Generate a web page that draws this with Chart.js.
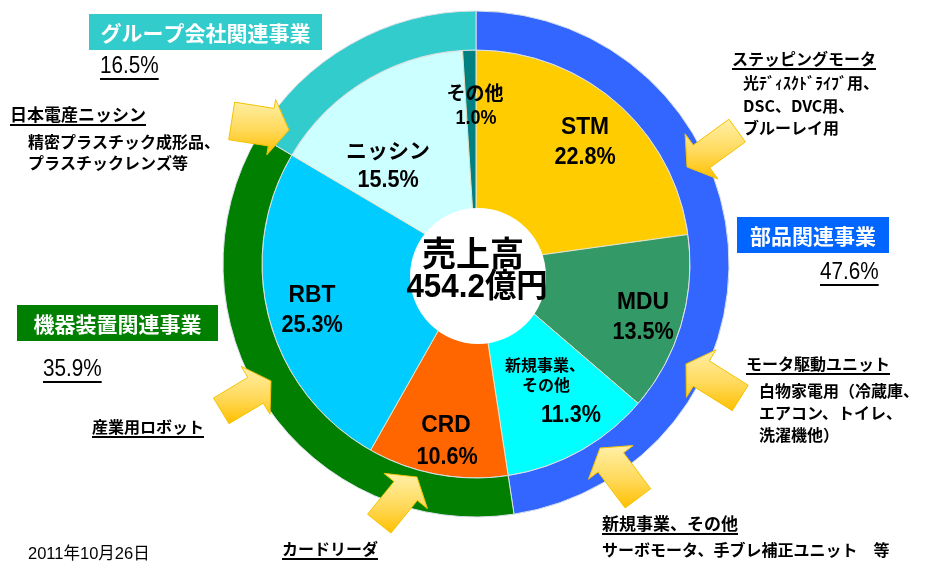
<!DOCTYPE html>
<html><head><meta charset="utf-8">
<script src="https://cdn.jsdelivr.net/npm/chart.js@4.4.0/dist/chart.umd.min.js"></script>
<style>html,body{margin:0;padding:0;background:#fff;overflow:hidden}canvas{display:block}</style>
</head><body>
<canvas id="c" width="925" height="561"></canvas>
<script>
// ---------- data ----------
const segmentNames = ['STM', 'MDU', '新規事業、その他', 'CRD', 'RBT', 'ニッシン', 'その他'];
const segmentShares = [22.8, 13.5, 11.3, 10.6, 25.3, 15.5, 1.0];
const businessNames = ['部品関連事業', '機器装置関連事業', 'グループ会社関連事業'];
const businessShares = [47.6, 35.9, 16.5];
const centerTitle = '売上高';
const centerValue = '454.2億円';
const dateLabel = '2011年10月26日';

// ---------- styles / layout ----------
const segmentColors = ['#FFCC00', '#339966', '#00FFFF', '#FF6600', '#00CCFF', '#CCFFFF', '#008080'];
const businessColors = ['#3366FF', '#007F00', '#33CCCC'];
const businessBoxColors = ['#0066FF', '#007F00', '#33CCCC'];
const SANS = '"Liberation Sans", "Noto Sans CJK JP", sans-serif';
const JP = '"Noto Sans CJK JP", "Liberation Sans", sans-serif';

// label lines for inner segments: positions are layout only
const segmentLabelLayout = [
  {lines: [{k: 'name', x: 585, y: 127}, {k: 'pct', x: 585, y: 157}]},
  {lines: [{k: 'name', x: 643, y: 302}, {k: 'pct', x: 643, y: 332}]},
  {lines: [{k: 'name0', x: 545, y: 365, small: true}, {k: 'name1', x: 546, y: 385, small: true}, {k: 'pct', x: 571, y: 415}]},
  {lines: [{k: 'name', x: 446, y: 425}, {k: 'pct', x: 447, y: 457}]},
  {lines: [{k: 'name', x: 312, y: 295}, {k: 'pct', x: 312, y: 325}]},
  {lines: [{k: 'name', x: 388, y: 150, jp: 21}, {k: 'pct', x: 388, y: 180}]},
  {lines: [{k: 'name', x: 475, y: 93, jp: 19}, {k: 'pct', x: 476, y: 118, size: 20}]}
];
const businessBoxLayout = [
  {rect: [737, 217, 152, 36], pct: [820, 273]},
  {rect: [17, 305, 201, 36], pct: [43, 370]},
  {rect: [89, 14, 233, 36], pct: [100, 67]}
];
const notes = [
  {t: '日本電産ニッシン', x: 10, y: 115, size: 17, ul: true},
  {t: '精密プラスチック成形品、', x: 28, y: 142, size: 16},
  {t: 'プラスチックレンズ等', x: 28, y: 163, size: 16},
  {t: '産業用ロボット', x: 92, y: 427, size: 16, ul: true},
  {t: 'カードリーダ', x: 282, y: 549, size: 16, ul: true},
  {t: 'ステッピングモータ', x: 732, y: 59, size: 16, ul: true},
  {t: '光ﾃﾞｨｽｸﾄﾞﾗｲﾌﾞ用、', x: 743, y: 83, size: 16},
  {t: 'DSC、DVC用、', x: 743, y: 106, size: 16},
  {t: 'ブルーレイ用', x: 743, y: 128, size: 16},
  {t: 'モータ駆動ユニット', x: 746, y: 364, size: 16, ul: true},
  {t: '白物家電用（冷蔵庫、', x: 759, y: 391, size: 16},
  {t: 'エアコン、トイレ、', x: 759, y: 413, size: 16},
  {t: '洗濯機他）', x: 759, y: 435, size: 16},
  {t: '新規事業、その他', x: 602, y: 524, size: 17, ul: true},
  {t: 'サーボモータ、手ブレ補正ユニット　等', x: 602, y: 550, size: 16}
];
// arrows: tip x, tip y, direction (deg), length, shaft width
const arrows = [
  [289, 130, 9, 58, 38],
  [687, 167, 144, 62, 28],
  [686, 364, -148, 64, 30],
  [600, 448, -127, 63, 32],
  [417, 477, -51, 60, 30],
  [271, 381, -31, 58, 30]
];

function text(ctx, s, x, y, font, color, align, sx, ul) {
  ctx.save();
  ctx.font = font; ctx.fillStyle = color; ctx.textAlign = align; ctx.textBaseline = 'middle';
  ctx.translate(x, y); ctx.scale(sx || 1, 1);
  ctx.fillText(s, 0, 0);
  if (ul) {
    const w = ctx.measureText(s).width;
    const x0 = align === 'center' ? -w / 2 : 0;
    ctx.fillRect(x0, ul, w, 2);
  }
  ctx.restore();
}

function drawArrow(ctx, a) {
  const [tx, ty, deg, len, shaftW] = a;
  const headW = 56, headL = 18;
  const r = deg * Math.PI / 180, c = Math.cos(r), s = Math.sin(r);
  const local = [[0, 0], [-headL, -headW / 2], [-headL, -shaftW / 2], [-len, -shaftW / 2],
                 [-len, shaftW / 2], [-headL, shaftW / 2], [-headL, headW / 2]];
  const pts = local.map(([x, y]) => [tx + x * c - y * s, ty + x * s + y * c]);
  const ys = pts.map(p => p[1]);
  const g = ctx.createLinearGradient(0, Math.min(...ys), 0, Math.max(...ys));
  g.addColorStop(0, '#FFF0A8');
  g.addColorStop(0.55, '#FFD95A');
  g.addColorStop(1, '#FFC000');
  ctx.save();
  ctx.beginPath();
  pts.forEach((p, i) => i ? ctx.lineTo(p[0], p[1]) : ctx.moveTo(p[0], p[1]));
  ctx.closePath();
  ctx.fillStyle = g; ctx.fill();
  ctx.strokeStyle = '#F2C200'; ctx.lineWidth = 1; ctx.stroke();
  ctx.restore();
}

const decorations = {
  id: 'decorations',
  afterDatasetsDraw(chart) {
    const ctx = chart.ctx;
    const arc = chart.getDatasetMeta(1).data[0];
    const cx = arc.x, cy = arc.y;
    // white hole (slightly off-centre as in the original)
    ctx.save();
    ctx.beginPath();
    ctx.arc(cx + 2, cy + 12, 68, 0, Math.PI * 2);
    ctx.fillStyle = '#FFFFFF'; ctx.fill();
    ctx.restore();
    text(ctx, centerTitle, cx - 3, cy - 11, 'bold 34px ' + JP, '#000', 'center');
    text(ctx, centerValue, cx + 1, cy + 24, 'bold 33px ' + SANS, '#000', 'center', 0.95);

    // inner labels
    segmentLabelLayout.forEach((lay, i) => {
      const parts = segmentNames[i].split('、');
      lay.lines.forEach(l => {
        let s, font, sx = 1;
        if (l.k === 'pct') {
          s = segmentShares[i].toFixed(1) + '%';
          font = 'bold ' + (l.size || 24) + 'px ' + SANS; sx = 0.9;
        } else if (l.k === 'name0') {
          s = parts[0] + '、'; font = 'bold 16px ' + JP;
        } else if (l.k === 'name1') {
          s = parts[1]; font = 'bold 16px ' + JP;
        } else if (l.jp) {
          s = segmentNames[i]; font = 'bold ' + l.jp + 'px ' + JP;
        } else {
          s = segmentNames[i]; font = 'bold 24px ' + SANS; sx = 0.95;
        }
        text(ctx, s, l.x, l.y, font, '#000', 'center', sx);
      });
    });
  },
  afterDraw(chart) {
    const ctx = chart.ctx;
    arrows.forEach(a => drawArrow(ctx, a));
    businessBoxLayout.forEach((b, i) => {
      const [x, y, w, h] = b.rect;
      ctx.fillStyle = businessBoxColors[i];
      ctx.fillRect(x, y, w, h);
      text(ctx, businessNames[i], x + w / 2, y + h / 2 + 1, 'bold 21px ' + JP, '#FFFFFF', 'center');
      text(ctx, businessShares[i].toFixed(1) + '%', b.pct[0], b.pct[1], '23px ' + SANS, '#000', 'left', 0.9, 11);
    });
    notes.forEach(n => {
      text(ctx, n.t, n.x, n.y, 'bold ' + n.size + 'px ' + JP, '#000', 'left', 1, n.ul ? 9 : 0);
    });
    text(ctx, dateLabel, 28, 554, '16.5px ' + SANS, '#000', 'left');
  }
};

new Chart(document.getElementById('c'), {
  type: 'doughnut',
  data: {
    labels: segmentNames,
    datasets: [
      {data: businessShares, backgroundColor: businessColors, borderColor: '#D8E0E8', borderWidth: 1, weight: 39},
      {data: segmentShares, backgroundColor: segmentColors, borderColor: '#E6E2C8', borderWidth: 1, weight: 214}
    ]
  },
  options: {
    responsive: false,
    animation: false,
    devicePixelRatio: 1,
    cutout: 0,
    radius: 253,
    rotation: 0,
    layout: {padding: {left: 223, right: 196, top: 11, bottom: 44}},
    plugins: {legend: {display: false}, tooltip: {enabled: false}, title: {display: false}},
    events: []
  },
  plugins: [decorations]
});
</script>
</body></html>
